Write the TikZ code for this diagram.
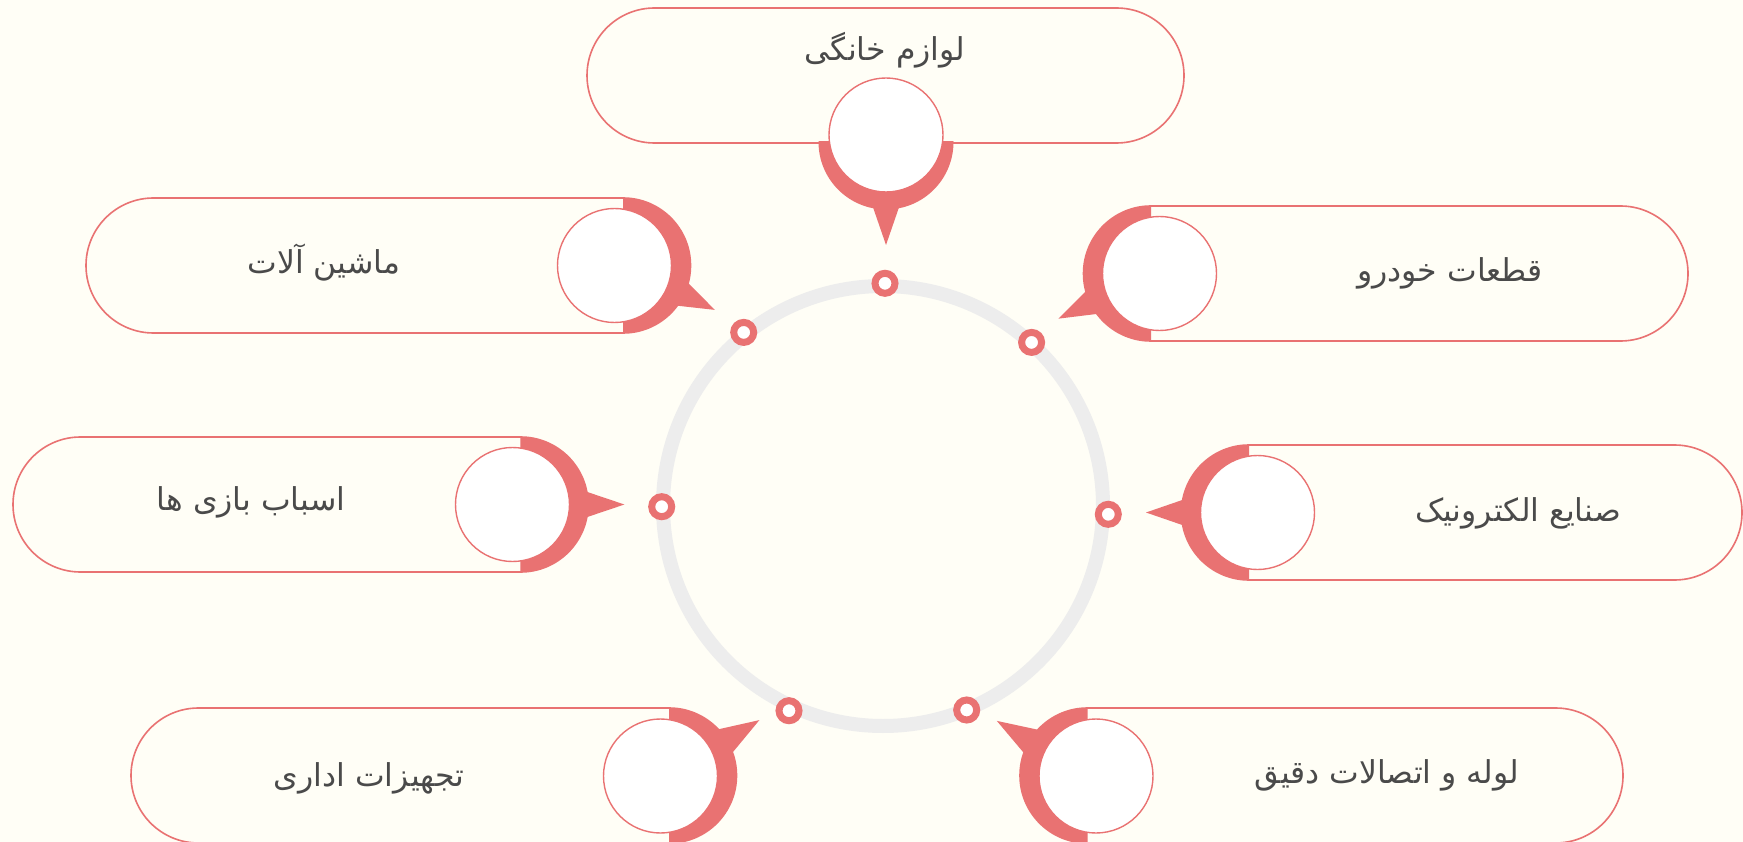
\documentclass[tikz,border=0pt]{standalone}
\usepackage{fontspec}
\TeXXeTstate=1
\newfontfamily\arabicfont[Script=Arabic]{DejaVu Sans}
\usetikzlibrary{calc}
\definecolor{pinkc}{HTML}{E97272}
\definecolor{bgc}{HTML}{FFFEF6}
\definecolor{ringc}{HTML}{EDEDED}
\definecolor{txtc}{HTML}{4A4A4A}
\begin{document}
\begin{tikzpicture}[x=1pt,y=-1pt,
 pill/.style={rectangle, rounded corners=67.5pt, draw=pinkc, line width=1.6pt, fill=bgc, minimum height=135pt, inner sep=0pt},
 hole/.style={circle, draw=pinkc, line width=1.4pt, fill=white, minimum size=114pt, inner sep=0pt},
 dotn/.style={circle, draw=pinkc, line width=7pt, fill=white, minimum size=20pt, inner sep=0pt},
 lbl/.style={text=txtc, font=\arabicfont\fontsize{31.5}{36}\selectfont, inner sep=0pt},
 ringn/.style={circle, draw=ringc, line width=14pt, minimum size=440pt, inner sep=0pt}]
\fill[bgc] (0,0) rectangle (1743,842);
\useasboundingbox (0,0) rectangle (1743,842);

% ring and dots
\node[ringn] (ring) at (883,506) {};
\node[dotn] (d1) at (885,283.3) {};
\node[dotn] (d2) at (1031.6,342.4) {};
\node[dotn] (d3) at (1108.3,514.3) {};
\node[dotn] (d4) at (966.7,710) {};
\node[dotn] (d5) at (789,710.7) {};
\node[dotn] (d6) at (661.7,506.7) {};
\node[dotn] (d7) at (743.7,332.4) {};

% boxes
\node[pill, minimum width=597pt] (b1) at (885.5,75.5) {};
\node[pill, minimum width=604.5pt] (b2) at (1385.75,273.5) {};
\node[pill, minimum width=560.5pt] (b3) at (1461.75,512.5) {};
\node[pill, minimum width=603pt] (b4) at (1321.5,775.5) {};
\node[pill, minimum width=605.5pt] (b5) at (433.75,775.5) {};
\node[pill, minimum width=575pt] (b6) at (300.5,504.5) {};
\node[pill, minimum width=604.5pt] (b7) at (388.25,265.5) {};

% pink caps centres
\coordinate (p1) at (886,142);
\coordinate (p2) at (1151,273.5);
\coordinate (p3) at (1249,512.5);
\coordinate (p4) at (1087.7,775.5);
\coordinate (p5) at (669,775.5);
\coordinate (p6) at (520.4,504.5);
\coordinate (p7) at (623,265.5);

% caps
\begin{scope}\clip (886-70,142) rectangle (886+70,142+70);\fill[pinkc] (p1) circle[radius=67.5pt];\end{scope}
\begin{scope}\clip (1151-70,273.5-70) rectangle (1151,273.5+70);\fill[pinkc] (p2) circle[radius=67.5pt];\end{scope}
\begin{scope}\clip (1249-70,512.5-70) rectangle (1249,512.5+70);\fill[pinkc] (p3) circle[radius=67.5pt];\end{scope}
\begin{scope}\clip (1087.7-70,775.5-70) rectangle (1087.7,775.5+70);\fill[pinkc] (p4) circle[radius=67.5pt];\end{scope}
\begin{scope}\clip (669,775.5-70) rectangle (669+70,775.5+70);\fill[pinkc] (p5) circle[radius=67.5pt];\end{scope}
\begin{scope}\clip (520.4,504.5-70) rectangle (520.4+70,504.5+70);\fill[pinkc] (p6) circle[radius=67.5pt];\end{scope}
\begin{scope}\clip (623,265.5-70) rectangle (623+70,265.5+70);\fill[pinkc] (p7) circle[radius=67.5pt];\end{scope}

% pointers
\fill[pinkc] ($(p1)+(90-15:60)$) -- ($(p1)+(90:103)$) -- ($(p1)+(90+15:60)$) -- cycle;
\fill[pinkc] ($(p2)+(154-15:60)$) -- ($(p2)+(154:103)$) -- ($(p2)+(154+15:60)$) -- cycle;
\fill[pinkc] ($(p3)+(180-15:60)$) -- ($(p3)+(180:103)$) -- ($(p3)+(180+15:60)$) -- cycle;
\fill[pinkc] ($(p4)+(211-16:60)$) -- ($(p4)+(211:106)$) -- ($(p4)+(211+16:60)$) -- cycle;
\fill[pinkc] ($(p5)+(-31.5-16:60)$) -- ($(p5)+(-31.5:106)$) -- ($(p5)+(-31.5+16:60)$) -- cycle;
\fill[pinkc] ($(p6)+(-15:60)$) -- ($(p6)+(0:104)$) -- ($(p6)+(15:60)$) -- cycle;
\fill[pinkc] ($(p7)+(25.8-15:60)$) -- ($(p7)+(25.8:102)$) -- ($(p7)+(25.8+15:60)$) -- cycle;

% white circles
\node[hole] (h1) at (886,135) {};
\node[hole] (h2) at (1159.5,273.5) {};
\node[hole] (h3) at (1257.5,512.5) {};
\node[hole] (h4) at (1096,776) {};
\node[hole] (h5) at (660.5,776) {};
\node[hole] (h6) at (512.5,504.5) {};
\node[hole] (h7) at (614.5,265.5) {};

% labels
\node[lbl] (t1) at (885,50) {\beginR لوازم خانگی\endR};
\node[lbl] (t2) at (1450,273) {\beginR قطعات خودرو\endR};
\node[lbl] (t3) at (1518,513) {\beginR صنایع الکترونیک\endR};
\node[lbl] (t4) at (1387,775) {\beginR لوله و اتصالات دقیق\endR};
\node[lbl] (t5) at (369,778) {\beginR تجهیزات اداری\endR};
\node[lbl] (t6) at (251,502) {\beginR اسباب بازی ها\endR};
\node[lbl] (t7) at (324,263) {\beginR ماشین آلات\endR};
\end{tikzpicture}
\end{document}
